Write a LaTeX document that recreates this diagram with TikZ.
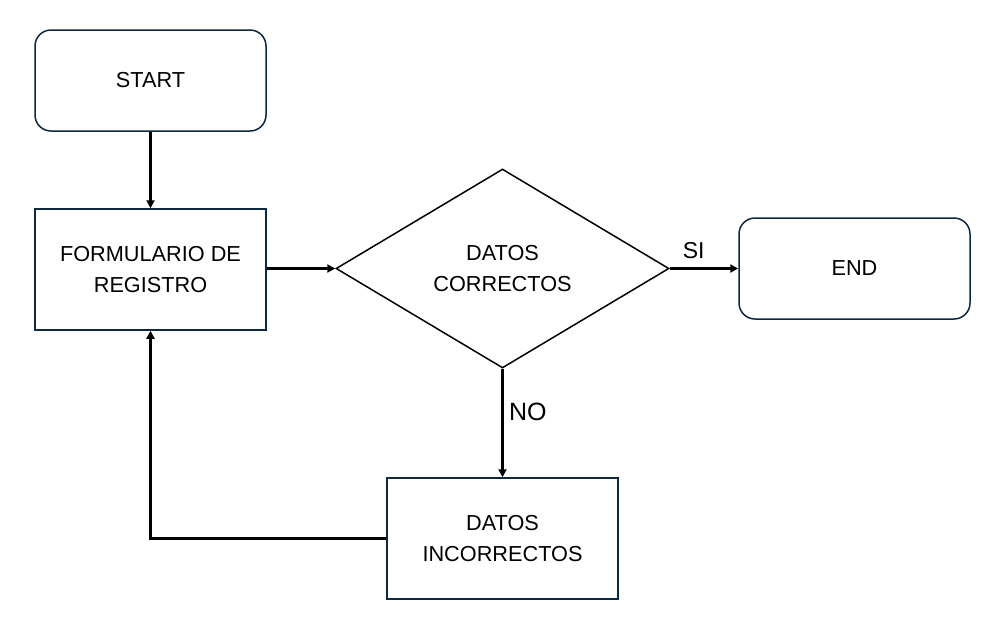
\documentclass[tikz,border=0pt]{standalone}
\usepackage{fontspec}
\setmainfont{Liberation Sans}
\usetikzlibrary{shapes.geometric,arrows.meta}
\definecolor{bordc}{HTML}{0E2841}
\begin{document}
\begin{tikzpicture}[x=1pt,y=-1pt,
  every node/.style={font=\fontsize{21.7}{31}\selectfont, align=center, text=black},
  term/.style={draw=bordc, line width=1.5pt, rounded corners=16pt, minimum width=231pt, minimum height=101pt, inner sep=0pt},
  proc/.style={draw=bordc, line width=1.5pt, minimum width=231pt, minimum height=121pt, inner sep=0pt},
  dec/.style={draw=black, line width=1.5pt, diamond, shape aspect=1.673, minimum width=333pt, minimum height=199pt, inner sep=0pt},
  conn/.style={line width=2.5pt, -{Triangle[width=8pt,length=8pt]}},
  lbl/.style={font=\fontsize{23}{26}\selectfont}
]
\useasboundingbox (0,0) rectangle (990,630);
\node[term] (start) at (150.5,80.5) {START};
\node[proc] (form) at (150.5,269.5) {FORMULARIO DE\\REGISTRO};
\node[dec] (dec) at (502.5,268.5) {DATOS\\CORRECTOS};
\node[term] (end) at (854.5,268.5) {END};
\node[proc] (inc) at (502.5,538.5) {DATOS\\INCORRECTOS};
\draw[conn] (start.south) -- (form.north);
\draw[conn] (form.east |- dec.west) -- (dec.west);
\draw[conn] (dec.east) -- node[lbl, above, pos=0.35, yshift=5pt] {SI} (end.west);
\draw[conn] (dec.south) -- node[lbl, right, pos=0.4, xshift=2pt, font=\fontsize{25}{28}\selectfont] {NO} (inc.north);
\draw[conn] (inc.west) -| (form.south);
\end{tikzpicture}
\end{document}
